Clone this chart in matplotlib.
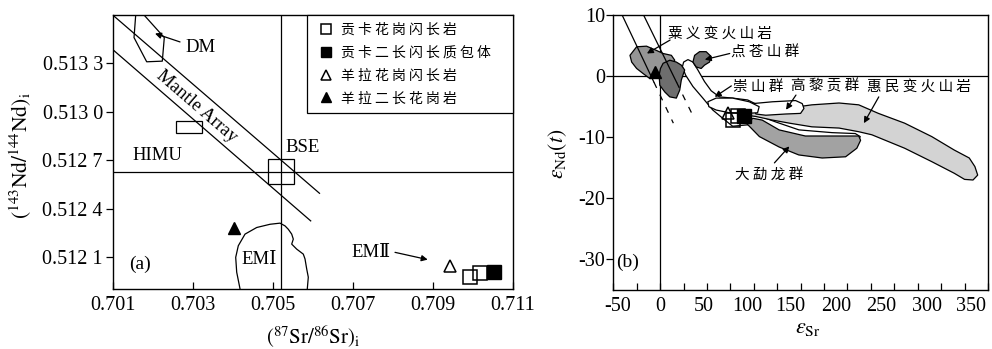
import matplotlib
matplotlib.use('Agg')
import matplotlib.pyplot as plt
from matplotlib.patches import Polygon, Rectangle
from matplotlib.lines import Line2D
from matplotlib.ticker import FixedLocator, FixedFormatter, MultipleLocator
from matplotlib.transforms import ScaledTranslation

plt.rcParams['font.family'] = ['Liberation Serif', 'DejaVu Serif']
plt.rcParams['mathtext.fontset'] = 'stix'
plt.rcParams['axes.unicode_minus'] = False

CJK = ['Noto Sans CJK SC', 'DejaVu Sans']
SERIF = ['Liberation Serif', 'DejaVu Serif']

# ---------------- panel (a): (87Sr/86Sr)i vs (143Nd/144Nd)i ----------------
sr_ticks = [0.701, 0.703, 0.705, 0.707, 0.709, 0.711]
sr_tick_labels = ['0.701', '0.703', '0.705', '0.707', '0.709', '0.711']
nd_ticks = [0.5121, 0.5124, 0.5127, 0.5130, 0.5133]
nd_tick_labels = ['0.512 1', '0.512 4', '0.512 7', '0.513 0', '0.513 3']

legend_labels = ['贡卡花岗闪长岩', '贡卡二长闪长质包体', '羊拉花岗闪长岩', '羊拉二长花岗岩']

# samples
gk_gd_sr = [0.70993, 0.71018]
gk_gd_nd = [0.511975, 0.51200]
gk_encl_sr = [0.71052]
gk_encl_nd = [0.51201]
yl_gd_sr = [0.70943]
yl_gd_nd = [0.512046]
yl_mg_sr = [0.70402]
yl_mg_nd = [0.512277]

# reservoirs
bse_sr_line = 0.7052
chur_nd_line = 0.51263
bse_box_sr = [0.70487, 0.70554]
bse_box_nd = [0.51255, 0.51271]
himu_box_sr = [0.70258, 0.70322]
himu_box_nd = [0.51287, 0.51294]
ma_upper_sr = [0.701, 0.70617]
ma_upper_nd = [0.5136, 0.512495]
ma_lower_sr = [0.701, 0.70595]
ma_lower_nd = [0.513386, 0.512324]
dm_sr = [0.701575, 0.701533, 0.70185, 0.70224, 0.70229, 0.701783]
dm_nd = [0.5136, 0.51346, 0.51331, 0.513314, 0.51346, 0.5136]
em1_sr = [0.704183, 0.7041, 0.704075, 0.70414, 0.704308, 0.7046, 0.704933, 0.705183,
          0.705308, 0.70539, 0.705475, 0.705515, 0.705475, 0.7056, 0.705765, 0.705808,
          0.70585, 0.70589, 0.705865]
em1_nd = [0.511903, 0.512006, 0.512098, 0.51217, 0.512242, 0.512283, 0.512303, 0.51231,
          0.512293, 0.512272, 0.512242, 0.512211, 0.51218, 0.512149, 0.512118, 0.512088,
          0.512026, 0.511975, 0.511903]

# ---------------- panel (b): eSr vs eNd(t) ----------------
esr_ticks = [-50, 0, 50, 100, 150, 200, 250, 300, 350]
esr_label_shift_px = [4, 0, -3, -7, -10, -11, -13, -14, -17]
end_ticks = [-30, -20, -10, 0, 10]

p_gk_gd_esr = [77.4, 82.7]
p_gk_gd_end = [-7.2, -6.6]
p_gk_encl_esr = [89.8]
p_gk_encl_end = [-6.6]
p_yl_gd_esr = [72.1]
p_yl_gd_end = [-6.1]
p_yl_mg_esr = [-6.0]
p_yl_mg_end = [0.7]

# mantle-array guide lines (solid part, dashed part)
arr1_solid_x = [-40.6, -6.6]
arr1_solid_y = [10.0, -1.0]
arr1_dash_x = [-6.6, 14.1]
arr1_dash_y = [-1.0, -7.7]
arr2_solid_x = [-17.7, 17.5]
arr2_solid_y = [10.0, -1.0]
arr2_dash_x = [17.5, 35.4]
arr2_dash_y = [-1.0, -6.6]

# field outlines
suyi_x = [-25.1, -14.5, -3.9, 3.2, 12.0, 15.6, 12.0, 3.2, -2.1, -11.0, -18.0, -25.1, -30.4, -32.2]
suyi_y = [4.8, 4.9, 4.2, 3.7, 3.4, 2.6, 1.8, 1.25, -0.1, -0.4, 0.4, 1.25, 2.3, 3.4]
dark_x = [3.2, 10.3, 17.3, 22.6, 26.2, 22.6, 20.9, 17.3, 10.3, 5.0, -0.35, -1.1, 0.35]
dark_y = [2.1, 2.6, 2.3, 1.8, 1.0, -0.65, -2.3, -3.6, -3.4, -2.6, -1.5, 0.16, 1.25]
dcs_x = [36.8, 42.1, 49.1, 54.5, 52.7, 47.4, 43.8, 38.5, 35.0]
dcs_y = [3.4, 4.0, 4.0, 3.2, 2.3, 1.8, 1.25, 1.5, 2.3]
band_x = [25.1, 29.7, 35.0, 40.3, 47.4, 54.5, 63.3, 77.4, 93.4, 104.0, 109.3, 112.8, 123.4,
          148.2, 183.5, 208.3, 213.6, 211.8, 183.5, 148.2, 123.4, 105.7, 91.6, 77.4, 66.8,
          56.2, 45.6, 35.0, 27.2, 23.7]
band_y = [2.3, 2.7, 2.3, 1.0, -0.9, -2.4, -3.4, -3.6, -3.9, -4.7, -5.8, -6.9, -7.5,
          -8.8, -9.25, -9.4, -9.9, -10.5, -10.0, -10.0, -9.1, -7.8, -8.0, -8.2, -6.9,
          -5.55, -3.6, -1.7, 0.16, 1.5]
huimin_x = [95, 120, 148, 162, 191, 212, 233, 261, 290, 314, 330, 336, 339, 334, 325, 314,
            290, 261, 226, 212, 191, 162, 138, 120, 102, 92]
huimin_y = [-5.5, -5.0, -5.0, -4.7, -4.4, -4.7, -6.1, -7.7, -9.9, -12.1, -13.4, -14.8, -16.2,
            -17.0, -16.9, -15.9, -14.0, -11.8, -9.6, -9.1, -8.5, -8.3, -7.7, -7.2, -6.6, -6.4]
dml_x = [92, 106, 127, 148, 173, 198, 210, 214, 212, 184, 155, 127, 109, 99]
dml_y = [-7.7, -9.9, -11.6, -12.9, -13.4, -13.2, -11.8, -10.5, -9.8, -9.8, -9.8, -8.8, -7.2, -6.9]
glg_x = [98.7, 119.9, 144.6, 151.7, 153.5, 149.9, 134.0, 112.8, 102.2]
glg_y = [-4.5, -4.2, -4.0, -4.5, -5.3, -6.1, -6.2, -6.4, -6.2]
cs_x = [50.9, 59.8, 77.4, 95.1, 105.7, 104.0, 91.6, 73.9, 59.8, 52.0]
cs_y = [-4.2, -3.6, -3.6, -4.2, -5.0, -6.0, -6.1, -6.0, -5.55, -5.0]


def spaced(s):
    return ' '.join(s)


def field(ax, xs, ys, color, z):
    ax.add_patch(Polygon(list(zip(xs, ys)), closed=True, facecolor=color,
                         edgecolor='black', lw=0.9, zorder=z, joinstyle='round'))


def arrow(ax, tail, head):
    ax.annotate('', xy=head, xytext=tail,
                arrowprops=dict(arrowstyle='-|>', color='black', lw=0.9,
                                mutation_scale=9, shrinkA=0, shrinkB=0), zorder=8)


fig = plt.figure(figsize=(9.92, 3.49), dpi=100)
W, H = 992.0, 349.0

# ---------- (a) ----------
axa = fig.add_axes([112.7 / W, (H - 289.3) / H, 400 / W, 274.3 / H])
axa.set_xlim(0.701, 0.711)
axa.set_ylim(0.5119, 0.5136)

axa.axvline(bse_sr_line, color='black', lw=0.9, zorder=2)
axa.axhline(chur_nd_line, color='black', lw=0.9, zorder=2)
axa.plot(ma_upper_sr, ma_upper_nd, color='black', lw=0.9, zorder=2)
axa.plot(ma_lower_sr, ma_lower_nd, color='black', lw=0.9, zorder=2)
axa.add_patch(Rectangle((bse_box_sr[0], bse_box_nd[0]), bse_box_sr[1] - bse_box_sr[0],
                        bse_box_nd[1] - bse_box_nd[0], fill=False, lw=0.9, zorder=3))
axa.add_patch(Rectangle((himu_box_sr[0], himu_box_nd[0]), himu_box_sr[1] - himu_box_sr[0],
                        himu_box_nd[1] - himu_box_nd[0], fill=False, lw=0.9, zorder=3))
axa.plot(dm_sr, dm_nd, color='black', lw=0.9, zorder=2)
axa.plot(em1_sr, em1_nd, color='black', lw=0.9, zorder=2)

axa.plot(gk_gd_sr, gk_gd_nd, ls='none', marker='s', ms=9.5, mfc='none', mec='black', mew=1.1, zorder=5)
axa.plot(gk_encl_sr, gk_encl_nd, ls='none', marker='s', ms=9.5, mfc='black', mec='black', zorder=5)
axa.plot(yl_gd_sr, yl_gd_nd, ls='none', marker='^', ms=9, mfc='none', mec='black', mew=1.1, zorder=5)
axa.plot(yl_mg_sr, yl_mg_nd, ls='none', marker='^', ms=9, mfc='black', mec='black', zorder=5)

axa.text(0.70281, 0.5134, 'DM', fontsize=13.5, va='center', ha='left')
arrow(axa, (0.702683, 0.513433), (0.702058, 0.513485))
axa.text(0.7031, 0.513033, 'Mantle Array', fontsize=13.5, rotation=-40.8,
         rotation_mode='anchor', ha='center', va='center')
axa.text(0.70212, 0.512727, 'HIMU', fontsize=13.5, ha='center', va='center')
axa.text(0.705745, 0.51278, 'BSE', fontsize=13.5, ha='center', va='center')
axa.text(0.704667, 0.512085, 'EMⅠ', fontsize=13.5, ha='center', va='center', family=SERIF)
axa.text(0.707453, 0.512129, 'EMⅡ', fontsize=13.5, ha='center', va='center', family=SERIF)
arrow(axa, (0.708058, 0.512129), (0.708875, 0.512084))
axa.text(0.701683, 0.512057, '(a)', fontsize=14, ha='center', va='center')

handles = [
    Line2D([], [], ls='none', marker='s', ms=6.5, mfc='none', mec='black', mew=1.1),
    Line2D([], [], ls='none', marker='s', ms=6.5, mfc='black', mec='black'),
    Line2D([], [], ls='none', marker='^', ms=7, mfc='none', mec='black', mew=1.1),
    Line2D([], [], ls='none', marker='^', ms=7, mfc='black', mec='black'),
]
leg = axa.legend(handles, [spaced(s) for s in legend_labels], loc='upper left',
                 bbox_to_anchor=(0.4865, 0.0, 0.5135, 1.0), mode='expand', borderaxespad=0,
                 prop={'family': CJK, 'size': 10}, fancybox=False, framealpha=1,
                 edgecolor='black', handlelength=1.6, handletextpad=0.3,
                 borderpad=0.55, labelspacing=0.64)
leg.get_frame().set_linewidth(0.9)

axa.xaxis.set_major_locator(FixedLocator(sr_ticks))
axa.xaxis.set_major_formatter(FixedFormatter(sr_tick_labels))
axa.yaxis.set_major_locator(FixedLocator(nd_ticks))
axa.yaxis.set_major_formatter(FixedFormatter(nd_tick_labels))
axa.tick_params(axis='x', direction='in', length=5, width=0.9, pad=5, labelsize=14.5)
axa.tick_params(axis='y', direction='out', length=5, width=0.9, pad=2, labelsize=14.5)
axa.set_xlabel(r'$(^{87}\mathrm{Sr}/^{86}\mathrm{Sr})_\mathrm{i}$', fontsize=15)
axa.set_ylabel(r'$(^{143}\mathrm{Nd}/^{144}\mathrm{Nd})_\mathrm{i}$', fontsize=15.5)
axa.xaxis.set_label_coords(0.5015, -0.128)
axa.yaxis.set_label_coords(-0.197, 0.488)
for sp in axa.spines.values():
    sp.set_linewidth(1.0)

# ---------- (b) ----------
axb = fig.add_axes([613.3 / W, (H - 290) / H, 374.7 / W, 275 / H])
axb.set_xlim(-50, 350)
axb.set_ylim(-35, 10)

axb.axhline(0, color='black', lw=0.9, zorder=1)
axb.axvline(0, color='black', lw=0.9, zorder=1)

field(axb, band_x, band_y, 'white', 2)
field(axb, huimin_x, huimin_y, '#d3d3d3', 3)
field(axb, dml_x, dml_y, '#a2a2a2', 3)
field(axb, glg_x, glg_y, 'white', 4)
field(axb, cs_x, cs_y, 'white', 4)
field(axb, suyi_x, suyi_y, '#959595', 2)
field(axb, dark_x, dark_y, '#6e6e6e', 2.5)
field(axb, dcs_x, dcs_y, '#737373', 2)

axb.plot(arr1_solid_x, arr1_solid_y, color='black', lw=0.9, zorder=3)
axb.plot(arr1_dash_x, arr1_dash_y, color='black', lw=0.9, ls=(0, (5, 6)), zorder=3)
axb.plot(arr2_solid_x, arr2_solid_y, color='black', lw=0.9, zorder=3)
axb.plot(arr2_dash_x, arr2_dash_y, color='black', lw=0.9, ls=(0, (5, 6)), zorder=3)

axb.plot(p_gk_gd_esr, p_gk_gd_end, ls='none', marker='s', ms=9.5, mfc='none', mec='black', mew=1.1, zorder=6)
axb.plot(p_gk_encl_esr, p_gk_encl_end, ls='none', marker='s', ms=9.5, mfc='black', mec='black', zorder=6)
axb.plot(p_yl_gd_esr, p_yl_gd_end, ls='none', marker='^', ms=9, mfc='none', mec='black', mew=1.1, zorder=6)
axb.plot(p_yl_mg_esr, p_yl_mg_end, ls='none', marker='^', ms=9, mfc='black', mec='black', zorder=6)

lbl = dict(fontsize=10.5, family=CJK, va='center', ha='left', zorder=9)
axb.text(8.0, 7.0, spaced('粟义变火山岩'), **lbl)
arrow(axb, (10.6, 5.9), (-14.1, 3.7))
axb.text(75.5, 3.9, spaced('点苍山群'), **lbl)
arrow(axb, (74.3, 3.7), (47.7, 2.7))
axb.text(77.5, -1.7, spaced('崇山群'), **lbl)
arrow(axb, (76.0, -1.6), (58.3, -3.4))
axb.text(140.0, -1.7, spaced('高黎贡群'), **lbl)
arrow(axb, (145.0, -3.1), (134.4, -5.5))
axb.text(220.5, -1.7, spaced('惠民变火山岩'), **lbl)
arrow(axb, (233.4, -3.4), (217.5, -7.7))
axb.text(80.0, -16.2, spaced('大勐龙群'), **lbl)
arrow(axb, (122.0, -14.2), (137.9, -11.5))
axb.text(-34.5, -30.5, '(b)', fontsize=14, ha='center', va='center')

axb.xaxis.set_major_locator(FixedLocator(esr_ticks))
axb.xaxis.set_minor_locator(MultipleLocator(25))
axb.yaxis.set_major_locator(FixedLocator(end_ticks))
axb.tick_params(axis='x', which='both', direction='in', length=5, width=0.9, pad=5, labelsize=14.5)
axb.tick_params(axis='y', direction='out', length=5, width=0.9, pad=1, labelsize=14.5)
axb.set_xlabel(r'$\varepsilon_{\mathrm{Sr}}$', fontsize=16)
axb.set_ylabel(r'$\varepsilon_{\mathrm{Nd}}(t)$', fontsize=15.5)
axb.xaxis.set_label_coords(0.518, -0.105)
axb.yaxis.set_label_coords(-0.118, 0.496)
for sp in axb.spines.values():
    sp.set_linewidth(1.0)

# the eSr tick labels are set slightly tighter than the tick spacing
for lab, dx in zip(axb.get_xticklabels(), esr_label_shift_px):
    lab.set_transform(lab.get_transform() + ScaledTranslation(dx / 100.0, 0, fig.dpi_scale_trans))

fig.savefig('out.png', dpi=100)
